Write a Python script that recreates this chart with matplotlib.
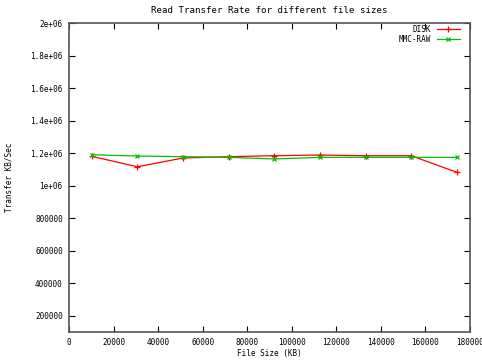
import matplotlib
matplotlib.use("Agg")
import matplotlib.pyplot as plt

# file sizes in KB (10 MB steps of 20 MB)
file_sizes = [10240, 30720, 51200, 71680, 92160, 112640, 133120, 153600, 174080]
disk_rate = [1180000, 1116000, 1170000, 1178000, 1184000, 1188000, 1184000, 1184000, 1082000]
mmc_raw_rate = [1190000, 1182000, 1178000, 1174000, 1164000, 1174000, 1174000, 1174000, 1174000]

x_ticks = [0, 20000, 40000, 60000, 80000, 100000, 120000, 140000, 160000, 180000]
y_ticks = [200000, 400000, 600000, 800000, 1000000, 1200000, 1400000, 1600000, 1800000, 2000000]
y_tick_labels = ["200000", "400000", "600000", "800000", "1e+06", "1.2e+06",
                 "1.4e+06", "1.6e+06", "1.8e+06", "2e+06"]

plt.rcParams['font.family'] = 'DejaVu Sans Mono'
plt.rcParams['font.size'] = 5.5

fig = plt.figure(figsize=(4.82, 3.6), dpi=100)
ax = fig.add_axes([69 / 482, 28 / 360, 401 / 482, 309 / 360])

ax.plot(file_sizes, disk_rate, color='#ff0000', lw=0.9, marker='+', ms=4, mew=0.9, label='DISK')
ax.plot(file_sizes, mmc_raw_rate, color='#00c000', lw=0.9, marker='x', ms=3.5, mew=0.9, label='MMC-RAW')

ax.set_xlim(0, 180000)
ax.set_ylim(100000, 2000000)
ax.set_xticks(x_ticks)
ax.set_xticklabels([str(t) for t in x_ticks])
ax.set_yticks(y_ticks)
ax.set_yticklabels(y_tick_labels)
ax.tick_params(direction='in', top=True, right=True, length=4, width=0.8)
ax.tick_params(axis='x', pad=4)
ax.tick_params(axis='y', pad=4.5)

for s in ax.spines.values():
    s.set_color('#555555')
    s.set_linewidth(1.2)

ax.set_title('Read Transfer Rate for different file sizes', pad=7)
ax.set_xlabel('File Size (KB)', labelpad=2)
ax.set_ylabel('Transfer KB/Sec', labelpad=12)

ax.legend(loc='upper right', bbox_to_anchor=(0.978, 1.0), frameon=False, markerfirst=False,
          handlelength=3.0, handletextpad=0.7, labelspacing=0.2, borderaxespad=0.0,
          borderpad=0.2)

fig.savefig('out.png', dpi=100)
